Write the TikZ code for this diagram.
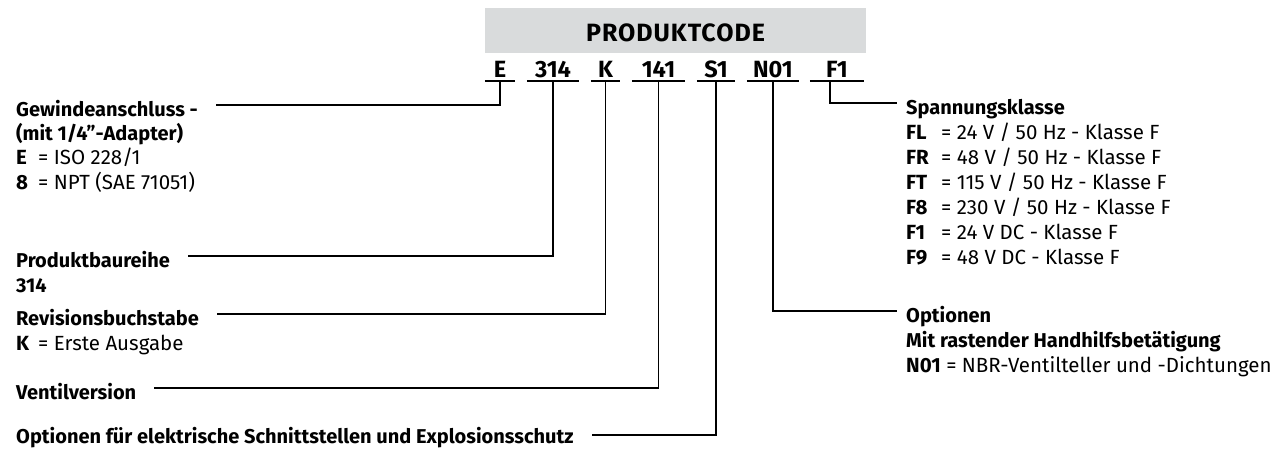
\documentclass[tikz,border=0pt]{standalone}
\usepackage{fontspec}
\setmainfont{Fira Sans}
\usetikzlibrary{positioning}

\definecolor{codegray}{RGB}{217,219,220}
\newcommand{\codekey}[2][22pt]{\makebox[#1][l]{\bfseries #2}}

\tikzset{
  title/.style = {font=\bfseries\fontsize{20}{25}\selectfont, inner sep=0pt, anchor=base west},
  body/.style = {font=\fontsize{20.5}{25}\selectfont, inner sep=0pt, anchor=base west},
  code/.style = {font=\bfseries\fontsize{23.5}{26}\selectfont, inner xsep=0pt, inner ysep=4pt, text depth=0pt, anchor=base},
  leader/.style = {line width=1.8pt},
  uline/.style = {line width=2.2pt}
}

\begin{document}
\begin{tikzpicture}[x=1pt, y=-1pt]
  \useasboundingbox (0,0) rectangle (1282,448);
  % header
  \node[fill=codegray, minimum width=381pt, minimum height=45pt, inner sep=0pt,
        text height=21pt, text depth=0pt,
        font=\bfseries\fontsize{25}{26}\selectfont\addfontfeatures{LetterSpace=4}]
        (head) at (675.5,30.5) {PRODUKTCODE};
  % code fields
  \foreach \c/\x/\w in {E/500/30, 314/553/52, K/605.5/29, 141/658.5/53, S1/716/38, N01/773/52, F1/837/54}
           {
             \node[code, minimum width=\w pt] (c\c) at (\x,77) {\c};
             \draw[uline] (c\c.south west) -- (c\c.south east);
           }
  % left side
  \node[title] (gew) at (16,116) {Gewindeanschluss -};
  \node[title] (gewA) at (16,140) {(mit 1/4”-Adapter)};
  \node[body] (gewE) at (16,164) {\codekey{E}= ISO 228/1};
  \node[body] (gew8) at (16,189) {\codekey{8}= NPT (SAE 71051)};
  \node[title] (prod) at (16,267) {Produktbaureihe};
  \node[title] (prodN) at (16,292) {314};
  \node[title] (rev) at (16,325) {Revisionsbuchstabe};
  \node[body] (revK) at (16,350) {\codekey{K}= Erste Ausgabe};
  \node[title] (ven) at (16,399) {Ventilversion};
  \node[title] (elx) at (16,443) {Optionen für elektrische Schnittstellen und Explosionsschutz};
  % right side
  \node[title] (spg) at (906,114) {Spannungsklasse};
  \foreach \k/\v [count=\i] in {FL/{24 V / 50 Hz - Klasse F}, FR/{48 V / 50 Hz - Klasse F},
                                FT/{115 V / 50 Hz - Klasse F}, F8/{230 V / 50 Hz - Klasse F},
                                F1/{24 V DC - Klasse F}, F9/{48 V DC - Klasse F}}
           {
             \node[body] (spg\i) at (906,{114+25*\i}) {\codekey[35pt]{\k}= \v};
           }
  \node[title] (opt) at (906,322) {Optionen};
  \node[title] (optM) at (906,347) {Mit rastender Handhilfsbetätigung};
  \node[body] (optN) at (906,372) {\textbf{N01} = NBR-Ventilteller und -Dichtungen};
  % leaders
  \draw[leader] (cE.south) |- ([shift={(18pt,11pt)}]gew.base east);
  \draw[leader] (c314.south) |- ([shift={(18pt,11pt)}]prod.base east);
  \draw[leader] (cK.south) |- ([shift={(18pt,11pt)}]rev.base east);
  \draw[leader] (c141.south) |- ([shift={(18pt,11pt)}]ven.base east);
  \draw[leader] (cS1.south) |- ([shift={(18pt,8pt)}]elx.base east);
  \draw[leader] (cN01.south) |- ([shift={(-9pt,11pt)}]opt.base west);
  \draw[leader] ([xshift=-7pt]cF1.south) |- ([shift={(-9pt,11pt)}]spg.base west);
\end{tikzpicture}
\end{document}
